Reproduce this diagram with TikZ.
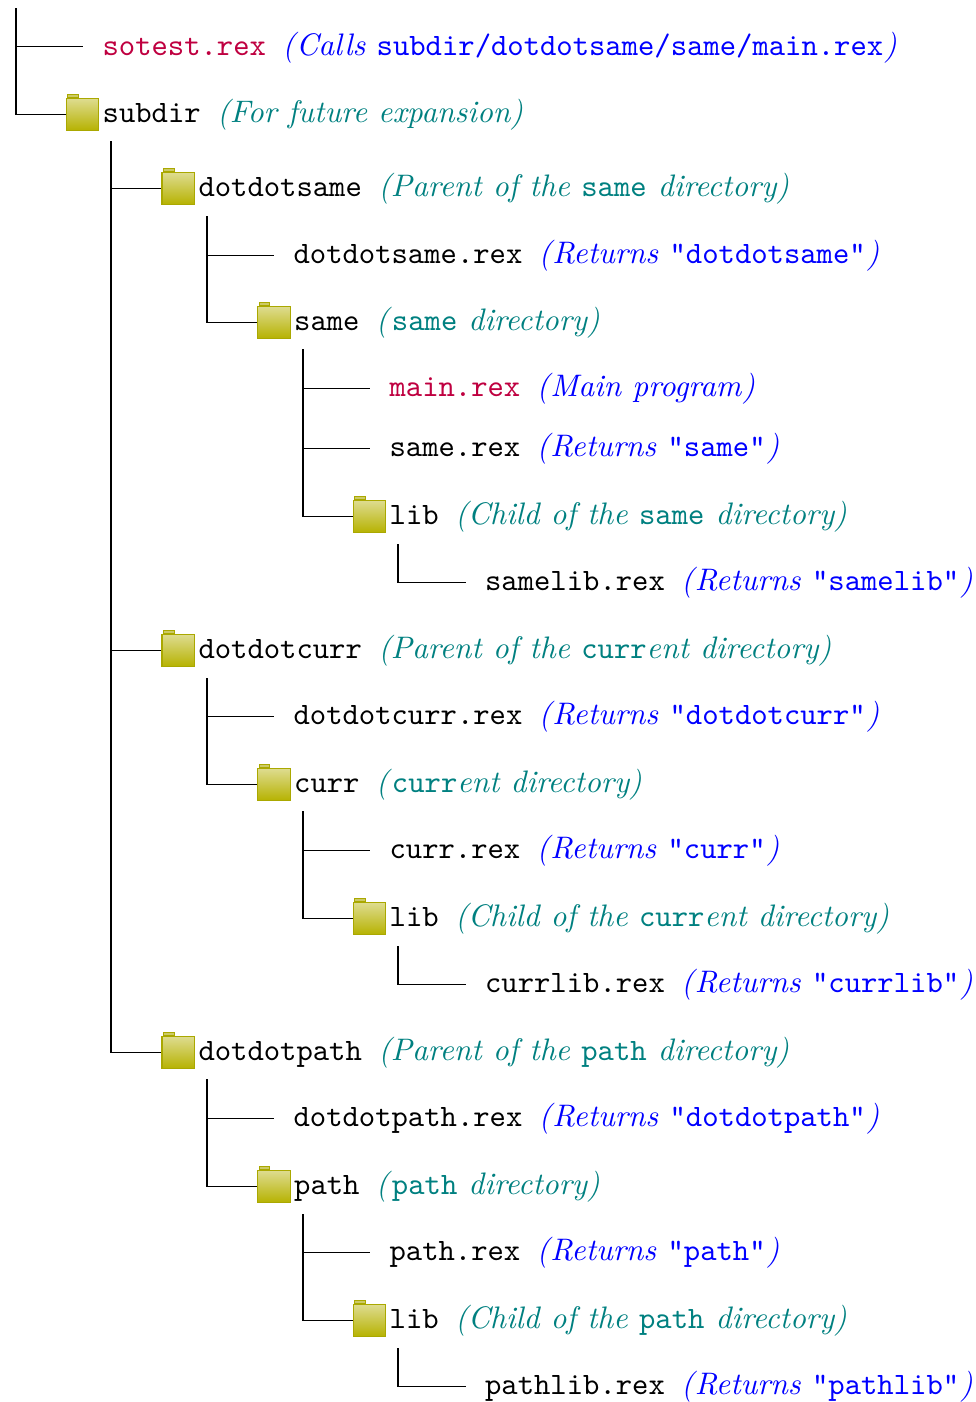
\documentclass[tikz,border=0pt]{standalone}
\usepackage{amsmath}
\usetikzlibrary{positioning}
\definecolor{folderdraw}{HTML}{AAA800}
\definecolor{foldertop}{HTML}{DEDC90}
\definecolor{folderbottom}{HTML}{B6B200}
\definecolor{foldertabfill}{HTML}{CCCA66}
\newcommand{\tn}[1]{\textup{\texttt{#1}}}
\newcommand{\dirnote}[1]{\hspace{5.25pt}\textcolor{teal}{\textit{(#1)}}}
\newcommand{\filenote}[1]{\hspace{5.25pt}\textcolor{blue}{\textit{(\kern0.3pt #1\kern0.3pt)}}}
\tikzset{
  foldertab/.style={draw=folderdraw,fill=foldertabfill,line width=0.3pt,inner sep=0pt,minimum width=3.4pt,minimum height=1.1pt,anchor=south west,xshift=0.5pt,yshift=-0.1pt,label distance=0pt},
  folder/.style={draw=folderdraw,line width=0.4pt,top color=foldertop,bottom color=folderbottom,inner sep=0pt,minimum width=10.4pt,minimum height=10.4pt,label={[foldertab]north west:}},
  entry/.style={inner sep=0pt,text height=7.5pt,text depth=2.1pt},
  dirname/.style={entry,right=0.9pt of #1},
  filename/.style={entry,anchor=west},
  branch/.style={line width=0.4pt},
  filebranch/.style={branch,shorten >=6pt}
}
\begin{document}
\begin{tikzpicture}[x=0.3213pt,y=-0.3213pt]
\useasboundingbox (0,0) rectangle (976,1402);

% start of each branch
\coordinate (roottop) at (16,8);
\coordinate (subdirtop) at (111,141);
\coordinate (dotsametop) at (207,216);
\coordinate (sametop) at (303,349);
\coordinate (samelibtop) at (398,544);
\coordinate (dotcurrtop) at (207,678);
\coordinate (currtop) at (303,811);
\coordinate (currlibtop) at (398,946);
\coordinate (dotpathtop) at (207,1079);
\coordinate (pathtop) at (303,1214);
\coordinate (pathlibtop) at (398,1348);

\node[filename] (sotest) at (102,46.6) {\textcolor{purple}{\tn{sotest.rex}}\filenote{Calls \tn{subdir/dotdotsame/same/main.rex}}};
\node[folder] (subdirf) at (82.5,114.5) {};
\node[dirname=subdirf] (subdir) {\tn{subdir}\dirnote{For future expansion}};

\node[folder] (dotsamef) at (178.3,188.5) {};
\node[dirname=dotsamef] (dotsame) {\tn{dotdotsame}\dirnote{Parent of the \tn{same} directory}};
\node[filename] (dotsamerex) at (293,255.5) {\tn{dotdotsame.rex}\filenote{Returns \tn{"dotdotsame"}}};
\node[folder] (samef) at (274,322.5) {};
\node[dirname=samef] (same) {\tn{same}\dirnote{\tn{same} directory}};
\node[filename] (mainrex) at (389,388.5) {\textcolor{purple}{\tn{main.rex}}\filenote{Main program}};
\node[filename] (samerex) at (389,448.5) {\tn{same.rex}\filenote{Returns \tn{"same"}}};
\node[folder] (samelibf) at (369.5,516.5) {};
\node[dirname=samelibf] (samelib) {\tn{lib}\dirnote{Child of the \tn{same} directory}};
\node[filename] (samelibrex) at (484.5,582.5) {\tn{samelib.rex}\filenote{Returns \tn{"samelib"}}};

\node[folder] (dotcurrf) at (178.3,650.5) {};
\node[dirname=dotcurrf] (dotcurr) {\tn{dotdotcurr}\dirnote{Parent of the \tn{curr}ent directory}};
\node[filename] (dotcurrrex) at (293,716.5) {\tn{dotdotcurr.rex}\filenote{Returns \tn{"dotdotcurr"}}};
\node[folder] (currf) at (274,784.5) {};
\node[dirname=currf] (curr) {\tn{curr}\dirnote{\tn{curr}ent directory}};
\node[filename] (currrex) at (389,850.5) {\tn{curr.rex}\filenote{Returns \tn{"curr"}}};
\node[folder] (currlibf) at (369.5,918.5) {};
\node[dirname=currlibf] (currlib) {\tn{lib}\dirnote{Child of the \tn{curr}ent directory}};
\node[filename] (currlibrex) at (484.5,984.5) {\tn{currlib.rex}\filenote{Returns \tn{"currlib"}}};

\node[folder] (dotpathf) at (178.3,1052.5) {};
\node[dirname=dotpathf] (dotpath) {\tn{dotdotpath}\dirnote{Parent of the \tn{path} directory}};
\node[filename] (dotpathrex) at (293,1118.5) {\tn{dotdotpath.rex}\filenote{Returns \tn{"dotdotpath"}}};
\node[folder] (pathf) at (274,1186.5) {};
\node[dirname=pathf] (path) {\tn{path}\dirnote{\tn{path} directory}};
\node[filename] (pathrex) at (389,1252.5) {\tn{path.rex}\filenote{Returns \tn{"path"}}};
\node[folder] (pathlibf) at (369.5,1320.5) {};
\node[dirname=pathlibf] (pathlib) {\tn{lib}\dirnote{Child of the \tn{path} directory}};
\node[filename] (pathlibrex) at (484.5,1386.5) {\tn{pathlib.rex}\filenote{Returns \tn{"pathlib"}}};

\draw[filebranch] (roottop) |- (sotest.west);
\draw[branch] (roottop) |- (subdirf.west);

\draw[branch] (subdirtop) |- (dotsamef.west);
\draw[branch] (subdirtop) |- (dotcurrf.west);
\draw[branch] (subdirtop) |- (dotpathf.west);

\draw[filebranch] (dotsametop) |- (dotsamerex.west);
\draw[branch] (dotsametop) |- (samef.west);
\draw[filebranch] (sametop) |- (mainrex.west);
\draw[filebranch] (sametop) |- (samerex.west);
\draw[branch] (sametop) |- (samelibf.west);
\draw[filebranch] (samelibtop) |- (samelibrex.west);

\draw[filebranch] (dotcurrtop) |- (dotcurrrex.west);
\draw[branch] (dotcurrtop) |- (currf.west);
\draw[filebranch] (currtop) |- (currrex.west);
\draw[branch] (currtop) |- (currlibf.west);
\draw[filebranch] (currlibtop) |- (currlibrex.west);

\draw[filebranch] (dotpathtop) |- (dotpathrex.west);
\draw[branch] (dotpathtop) |- (pathf.west);
\draw[filebranch] (pathtop) |- (pathrex.west);
\draw[branch] (pathtop) |- (pathlibf.west);
\draw[filebranch] (pathlibtop) |- (pathlibrex.west);

\end{tikzpicture}
\end{document}
